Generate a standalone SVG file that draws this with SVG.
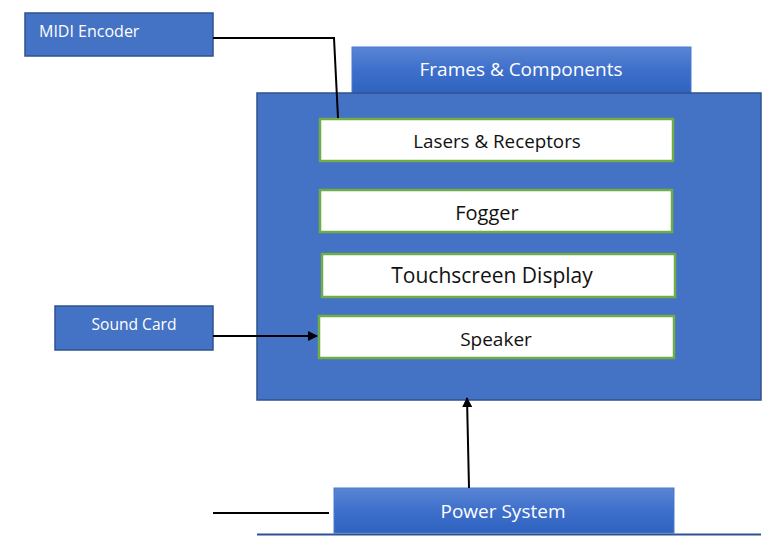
<svg xmlns="http://www.w3.org/2000/svg" width="772" height="536" viewBox="0 0 772 536">
<defs>
<style>
.blue{fill:#4472C4;stroke:#2F528F;stroke-width:1.5}
.grad{fill:url(#g);stroke:#4A7BD0;stroke-width:1}
.inner{fill:#fff;stroke:#70AD47;stroke-width:2.5}
.wt{font-family:"Open Sans","Noto Sans",sans-serif;fill:#fff;text-anchor:middle}
.wl{font-family:"Open Sans","Noto Sans",sans-serif;fill:#fff;text-anchor:start}
.bt{font-family:"Open Sans","Noto Sans",sans-serif;fill:#111;text-anchor:middle}
.conn{stroke:#000;stroke-width:2;fill:none}
</style>
<linearGradient id="g" x1="0" y1="0" x2="0" y2="1">
<stop offset="0" stop-color="#5985D3"/>
<stop offset="0.5" stop-color="#3E6FCB"/>
<stop offset="1" stop-color="#2F63C0"/>
</linearGradient>
<marker id="ah" markerWidth="10" markerHeight="10" refX="9" refY="5" orient="auto" markerUnits="userSpaceOnUse">
<path d="M0,0 L10,5 L0,10 Z" fill="#000"/>
</marker>
</defs>
<g id="frames-tab">
<rect class="grad" x="352" y="47" width="339" height="46"/>
<text class="wt" x="521" y="76" font-size="19">Frames &amp; Components</text>
</g>
<g id="main">
<rect class="blue" x="257" y="93" width="504" height="307"/>
</g>
<g id="lasers">
<rect class="inner" x="320" y="119" width="353" height="42"/>
<text class="bt" x="497" y="148" font-size="18.8">Lasers &amp; Receptors</text>
</g>
<g id="fogger">
<rect class="inner" x="320" y="190" width="352" height="42"/>
<text class="bt" x="487" y="220" font-size="20">Fogger</text>
</g>
<g id="touchscreen">
<rect class="inner" x="322" y="254" width="353" height="43"/>
<text class="bt" x="492" y="283" font-size="21">Touchscreen Display</text>
</g>
<g id="speaker">
<rect class="inner" x="319" y="316" width="355" height="42"/>
<text class="bt" x="496" y="346" font-size="19">Speaker</text>
</g>
<g id="midi">
<rect class="blue" x="25" y="13" width="188" height="43"/>
<text class="wl" x="39" y="37" font-size="16">MIDI Encoder</text>
</g>
<g id="soundcard">
<rect class="blue" x="55" y="306" width="158" height="44"/>
<text class="wt" x="134" y="330" font-size="15.6">Sound Card</text>
</g>
<g id="power">
<rect class="grad" x="334" y="488" width="340" height="45"/>
<text class="wt" x="503" y="518" font-size="19">Power System</text>
</g>
<g id="connectors">
<path class="conn" d="M213,38 L334,38 L338,118"/>
<path class="conn" d="M213,336 L317,336" marker-end="url(#ah)"/>
<path class="conn" d="M469,488 L467,398" marker-end="url(#ah)"/>
<path class="conn" d="M213,513 L329,513"/>
<path d="M257,534.5 L761,534.5" stroke="#2F528F" stroke-width="2"/>
</g>
</svg>
